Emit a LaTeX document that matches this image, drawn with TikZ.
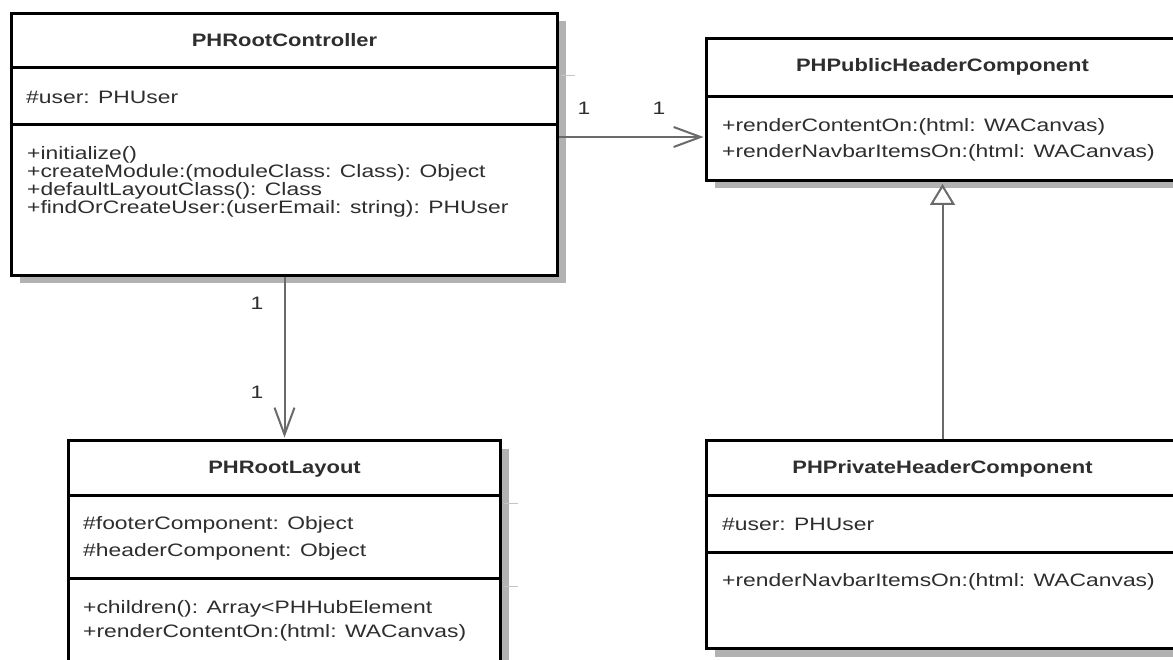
\documentclass[tikz,border=0pt]{standalone}
\usepackage{fontspec}
\newfontfamily\umlreg[FakeStretch=1.27]{Liberation Sans}
\newfontfamily\umlhead[FakeStretch=1.22]{Liberation Sans}
\usetikzlibrary{arrows.meta,shadows}

\definecolor{ink}{HTML}{2E2E2E}
\definecolor{shade}{HTML}{B2B2B2}
\definecolor{wire}{HTML}{6A6A6A}
\definecolor{tickgray}{HTML}{C4C4C4}

\tikzset{
  classbox/.style={draw=black, line width=3pt, fill=white, inner sep=0pt,
    anchor=north west,
    general shadow={fill=shade, shadow xshift=8pt, shadow yshift=-8pt}},
  divline/.style={draw=black, line width=3pt},
  divtick/.style={draw=tickgray, line width=1pt},
  title/.style={inner sep=0pt, anchor=base, text=ink,
    font=\umlhead\bfseries\fontsize{18}{20}\selectfont},
  member/.style={inner sep=0pt, anchor=base west, text=ink,
    font=\umlreg\fontsize{18}{20}\selectfont},
  mult/.style={inner sep=0pt, text=ink,
    font=\umlreg\fontsize{18}{20}\selectfont},
  assoc/.style={draw=wire, line width=2pt,
    -{Straight Barb[length=27pt, width=20pt]}, shorten >=1.5pt},
  inherit/.style={draw=wire, line width=2pt,
    -{Triangle[open, length=21pt, width=25pt, fill=white]}, shorten >=2pt},
}

\begin{document}
\begin{tikzpicture}[x=1pt, y=-1pt]
  \useasboundingbox (0,0) rectangle (1173,660);
  \fill[white] (0,0) rectangle (1173,660);
  \clip (0,0) rectangle (1173,660);

  % ---------- PHRootController ----------
  \node[classbox, minimum width=546pt, minimum height=262pt] (ctrl) at (10,12) {};
  \draw[divline] (ctrl.west |- 0,68) -- (ctrl.east |- 0,68);
  \draw[divline] (ctrl.west |- 0,125) -- (ctrl.east |- 0,125);
  \draw[divtick] ([xshift=1.5pt]ctrl.east |- 0,76) -- ++(14,0);
  \node[title] (ctrlT) at (ctrl.north |- 0,46.5) {PHRootController};
  \node[member] (ctrlA1) at (26,103.5) {\#user: PHUser};
  \node[member] (ctrlM1) at (27,159.5) {+initialize()};
  \node[member] (ctrlM2) at (27,177.5) {+createModule:(moduleClass: Class): Object};
  \node[member] (ctrlM3) at (27,195.5) {+defaultLayoutClass(): Class};
  \node[member] (ctrlM4) at (27,213.5) {+findOrCreateUser:(userEmail: string): PHUser};

  % ---------- PHPublicHeaderComponent ----------
  \node[classbox, minimum width=472pt, minimum height=142pt] (pub) at (705,37) {};
  \draw[divline] (pub.west |- 0,97) -- (pub.east |- 0,97);
  \node[title] (pubT) at (pub.north |- 0,71.5) {PHPublicHeaderComponent};
  \node[member] (pubM1) at (722,131.5) {+renderContentOn:(html: WACanvas)};
  \node[member] (pubM2) at (722,157.5) {+renderNavbarItemsOn:(html: WACanvas)};

  % ---------- PHRootLayout ----------
  \node[classbox, minimum width=432pt, minimum height=221pt] (lay) at (67,439) {};
  \draw[divline] (lay.west |- 0,495) -- (lay.east |- 0,495);
  \draw[divline] (lay.west |- 0,578) -- (lay.east |- 0,578);
  \draw[divtick] ([xshift=1.5pt]lay.east |- 0,503) -- ++(14,0);
  \draw[divtick] ([xshift=1.5pt]lay.east |- 0,586) -- ++(14,0);
  \node[title] (layT) at (lay.north |- 0,473.5) {PHRootLayout};
  \node[member] (layA1) at (83,529.5) {\#footerComponent: Object};
  \node[member] (layA2) at (83,556.5) {\#headerComponent: Object};
  \node[member] (layM1) at (83,613.5) {+children(): Array<PHHubElement};
  \node[member] (layM2) at (83,637.5) {+renderContentOn:(html: WACanvas)};

  % ---------- PHPrivateHeaderComponent ----------
  \node[classbox, minimum width=472pt, minimum height=208pt] (priv) at (705,439) {};
  \draw[divline] (priv.west |- 0,495) -- (priv.east |- 0,495);
  \draw[divline] (priv.west |- 0,552) -- (priv.east |- 0,552);
  \node[title] (privT) at (priv.north |- 0,473.5) {PHPrivateHeaderComponent};
  \node[member] (privA1) at (722,530.5) {\#user: PHUser};
  \node[member] (privM1) at (722,586.5) {+renderNavbarItemsOn:(html: WACanvas)};

  % ---------- relations ----------
  \draw[assoc] (ctrl.east |- 0,137) -- (pub.west |- 0,137);
  \node[mult] (mA) at (584,108) {1};
  \node[mult] (mB) at (659,108) {1};

  \draw[assoc] (ctrl.south) -- (lay.north);
  \node[mult] (mC) at (257,303) {1};
  \node[mult] (mD) at (257,392) {1};

  \draw[inherit] (priv.north) -- (pub.south);
\end{tikzpicture}
\end{document}
